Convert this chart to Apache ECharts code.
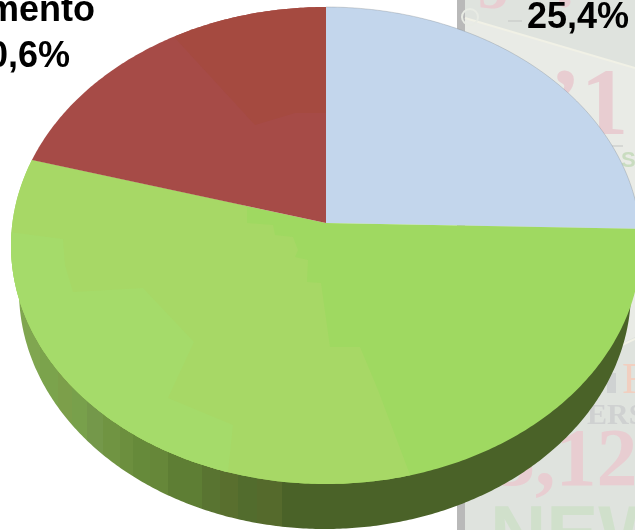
<!DOCTYPE html>
<html>
<head>
<meta charset="utf-8">
<style>
html,body{margin:0;padding:0;background:#fff;}
#main{width:635px;height:530px;overflow:hidden;}
</style>
<script src="https://cdn.jsdelivr.net/npm/echarts@6/dist/echarts.min.js"></script>
</head>
<body>
<div id="main"></div>
<script>
// fatias, sentido horario a partir do topo
var sliceNames = ['azul', 'verde', 'vermelho'];
var sliceValues = [25.4, 54.0, 20.6];
var sliceColors = ['#c3d6ec', '#9fd961', '#a64b47'];

// so o que aparece na imagem
var redCaption = 'mento';

// projecao do tampo (perspectiva)
var cx = 326, rx = 313.6, persp = -0.0943, ya = 215.34, yb = 223;
// aro de baixo da parede
var lowCx = 325, lowCy = 291, lowRx = 306, lowRy = 238;

function topPoint(t) {
    var u = Math.sin(t), v = -Math.cos(t), d = 1 + persp * v;
    return [cx + rx * u / d, (ya * v + yb) / d];
}
function lowPoint(t) {
    return [lowCx + lowRx * Math.sin(t), lowCy - lowRy * Math.cos(t)];
}
function slicePoints(fn, apex, a0, a1) {
    var pts = [apex];
    var n = Math.ceil((a1 - a0) / 0.01);
    for (var i = 0; i <= n; i++) {
        pts.push(fn(a0 + (a1 - a0) * i / n));
    }
    return pts;
}

// faixas da parede lateral
var wallBands = [
    [15, '#80a650'], [40, '#7ba34c'], [58, '#7c9f4a'], [72, '#78a04b'], [87, '#74984a'],
    [103, '#709442'], [120, '#6c8f3e'], [133, '#668a3a'], [150, '#668739'], [168, '#5e7e34'],
    [187, '#5e7e34'], [202, '#597431'], [220, '#596f2e'], [238, '#526c2d'], [257, '#556a2c'],
    [282, '#4a6228']
];
function wallGradient() {
    var x0 = 15, x1 = 640, stops = [];
    for (var i = 0; i < wallBands.length; i++) {
        var from = (wallBands[i][0] - x0) / (x1 - x0);
        var to = i + 1 < wallBands.length ? (wallBands[i + 1][0] - x0) / (x1 - x0) : 1;
        stops.push({offset: from, color: wallBands[i][1]});
        stops.push({offset: to, color: wallBands[i][1]});
    }
    return new echarts.graphic.LinearGradient(x0, 0, x1, 0, stops, true);
}

// reflexos do tampo
var midFacet = [[247,207],[247,223],[273,225],[275,235],[293,237],[298,250],[295,257],[308,260],[307,282],[321,283],[330,347],[360,347],[378,390],[412,480],[412,540],[-20,540],[-20,100]];
var lightFacet = [[-20,229],[10,232],[63,239],[65,265],[73,292],[143,288],[194,342],[168,398],[233,425],[228,472],[225,540],[-20,540]];
var redFacet = [[175,38],[255,125],[295,113],[326,113],[340,113],[340,-10],[175,-10]];

function renderSlice(params, api) {
    var total = 0, before = 0;
    for (var i = 0; i < sliceValues.length; i++) {
        total += sliceValues[i];
        if (i < params.dataIndex) before += sliceValues[i];
    }
    var a0 = before / total * Math.PI * 2;
    var a1 = (before + api.value(0)) / total * Math.PI * 2;
    var apex = [cx, yb];
    var pts = slicePoints(topPoint, apex, a0, a1);
    var children = [];
    if (params.dataIndex === 1) {
        children.push({
            type: 'polygon',
            shape: {points: slicePoints(lowPoint, [lowCx, lowCy], a0, a1)},
            style: {fill: wallGradient()}
        });
    }
    children.push({
        type: 'polygon',
        shape: {points: pts},
        style: {fill: sliceColors[params.dataIndex]}
    });
    var clip = {type: 'polygon', shape: {points: pts}};
    if (params.dataIndex === 0) {
        // contorno fino so na borda azul
        children.push({type: 'polyline', shape: {points: pts.slice(1)}, style: {stroke: 'rgba(120,125,130,0.3)', lineWidth: 1, fill: 'none'}});
    }
    if (params.dataIndex === 1) {
        children.push({type: 'polygon', shape: {points: midFacet}, style: {fill: '#a7d866'}, clipPath: clip});
        children.push({type: 'polygon', shape: {points: lightFacet}, style: {fill: '#a5db6a'}, clipPath: clip});
    }
    if (params.dataIndex === 2) {
        children.push({type: 'polygon', shape: {points: redFacet}, style: {fill: '#a54a40'}, clipPath: clip});
    }
    return {type: 'group', children: children};
}

function fmt(v) {
    return v.toFixed(1).replace('.', ',');
}
// y = linha de base do texto
function ghost(text, x, y, size, color, family, weight) {
    return {
        type: 'text', z: 1, silent: true,
        style: {text: text, x: x, y: y - size * 0.8, fill: color,
            font: (weight || 'bold') + ' ' + size + 'px ' + (family || '"Liberation Serif"')}
    };
}
function caption(text, x, y) {
    return {
        type: 'text', z: 10, silent: true,
        style: {text: text, x: x, y: y - 36 * 0.8, fill: '#000', align: 'right',
            font: 'bold 36px "Liberation Sans", Arial, sans-serif'}
    };
}
function hair(x0, y0, x1, y1, color, w) {
    return {type: 'polyline', z: 1, silent: true, shape: {points: [[x0, y0], [x1, y1]]},
        style: {stroke: color, lineWidth: w, fill: 'none'}};
}

var chart = echarts.init(document.getElementById('main'), null, {renderer: 'canvas'});
chart.setOption({
    animation: false,
    backgroundColor: '#fff',
    graphic: [
        // cartaz no fundo
        {type: 'rect', z: 0, silent: true, shape: {x: 457, y: 0, width: 8, height: 530}, style: {fill: '#b9b9b9'}},
        {type: 'rect', z: 0, silent: true, shape: {x: 465, y: 0, width: 170, height: 530}, style: {fill: '#dfe3de'}},
        {type: 'polygon', z: 0, silent: true, shape: {points: [[465,18],[635,68],[635,337],[465,420]]}, style: {fill: '#e9ebe6'}},
        hair(465, 18, 635, 68, '#f1f1e6', 2),
        hair(622, 345, 635, 339, '#f1f1e6', 2),
        {type: 'circle', z: 1, silent: true, shape: {cx: 470, cy: 17, r: 8}, style: {stroke: '#e8ebe4', lineWidth: 2, fill: 'none'}},
        hair(508, 21, 522, 21, '#c3c5c3', 1),
        hair(600, 146, 623, 146, '#c3c5c3', 1),
        ghost('3', 478, 10, 60, '#e8cdd1'),
        ghost('.', 556, 10, 70, '#e8cdd1'),
        ghost('\u20191', 549, 138, 95, '#e8cdd1'),
        ghost('S', 621, 168, 22, '#c9dcc0', '"Liberation Sans"'),
        {type: 'rect', z: 1, silent: true, shape: {x: 607, y: 373, width: 9, height: 20}, style: {fill: '#cfd2d2'}},
        ghost('F', 622, 395, 44, '#f1cfc0', '"Liberation Sans Narrow"', 'normal'),
        ghost('ERS', 587, 425, 30, '#cfd1d1'),
        ghost('3,12', 494, 488, 82, '#e8cdd1'),
        ghost('NEW', 490, 562, 78, '#d0e0cb', '"Liberation Sans"'),
        caption(fmt(sliceValues[0]) + '%', 629, 29),
        caption(redCaption, 95, 22),
        caption(fmt(sliceValues[2]) + '%', 70, 68)
    ],
    series: [{
        type: 'custom',
        coordinateSystem: 'none',
        silent: true,
        clip: false,
        renderItem: renderSlice,
        data: sliceValues.map(function (v, i) {
            return {name: sliceNames[i], value: [v]};
        })
    }]
});
</script>
</body>
</html>
